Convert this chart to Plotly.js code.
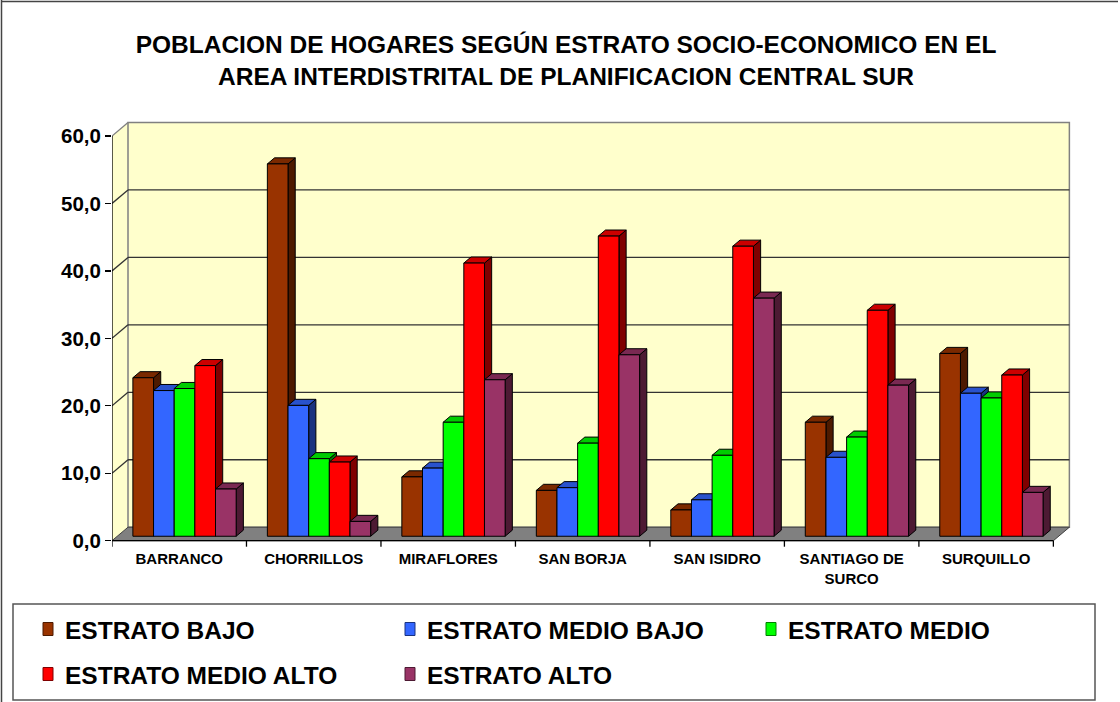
<!DOCTYPE html>
<html>
<head>
<meta charset="utf-8">
<script src="https://cdn.plot.ly/plotly-3.0.1.min.js"></script>
<style>html,body{margin:0;padding:0;background:#fff;}#chart{width:1120px;height:702px;}</style>
</head>
<body>
<div id="chart"></div>
<script>
// ---- data ----
const categories = ['BARRANCO', 'CHORRILLOS', 'MIRAFLORES', 'SAN BORJA', 'SAN ISIDRO', 'SANTIAGO DE SURCO', 'SURQUILLO'];
const tickLabels = ['BARRANCO', 'CHORRILLOS', 'MIRAFLORES', 'SAN BORJA', 'SAN ISIDRO', 'SANTIAGO DE<br>SURCO', 'SURQUILLO'];
const seriesNames = ['ESTRATO BAJO', 'ESTRATO MEDIO BAJO', 'ESTRATO MEDIO', 'ESTRATO MEDIO ALTO', 'ESTRATO ALTO'];
const estratoBajo = [23.5, 55.2, 8.8, 6.8, 3.9, 16.9, 27.1];
const estratoMedioBajo = [21.6, 19.4, 10.1, 7.2, 5.4, 11.7, 21.2];
const estratoMedio = [21.9, 11.5, 16.9, 13.8, 12.0, 14.7, 20.5];
const estratoMedioAlto = [25.3, 11.0, 40.5, 44.5, 43.0, 33.5, 23.9];
const estratoAlto = [7.0, 2.2, 23.2, 26.9, 35.3, 22.4, 6.5];
const yTickValues = [0, 10, 20, 30, 40, 50, 60];

// ---- styles ----
const seriesValues = [estratoBajo, estratoMedioBajo, estratoMedio, estratoMedioAlto, estratoAlto];
const frontColors = ['#993300', '#3366FF', '#00FF00', '#FF0000', '#993366'];
const topColors   = ['#7A2900', '#2952CC', '#00CC00', '#CC0000', '#7A2952'];
const sideColors  = ['#4D1A00', '#1A3380', '#008000', '#800000', '#4D1A33'];
const FONT = '"Liberation Sans", Arial, sans-serif';

// layout geometry (pixels)
const W_PX = 1120, H_PX = 702;
const M = {l: 112, r: 33, t: 110, b: 154};
const plotW = W_PX - M.l - M.r, plotH = H_PX - M.t - M.b;
const xRange = [-0.5, 6.75];
const pxPerVal = 6.745;
const yMin = -(H_PX - M.b - 540.7) / pxPerVal;
const yRange = [yMin, yMin + plotH / pxPerVal];
const pxPerCat = plotW / (xRange[1] - xRange[0]);
const DX = 16 / pxPerCat, DY = 13.5 / pxPerVal;   // depth of the 3D box
const A = 0.33, B = 0.45;                          // bar front position / bar depth (fractions)
const nS = seriesValues.length;
const BW = 0.768 / nS;                              // bar width in category units
const yMax = 60;

function px2paperX(p) { return (p - M.l) / plotW; }
function px2paperY(p) { return (H_PX - M.b - p) / plotH; }

// ---- bar faces ----
const traces = [];
seriesValues.forEach((vals, i) => {
  const fx = [], fy = [], sx = [], sy = [], tx = [], ty = [];
  vals.forEach((v, c) => {
    const xl = c - nS / 2 * BW + i * BW + A * DX;
    const xr = xl + BW;
    const y0 = A * DY, y1 = A * DY + v;
    const ddx = B * DX, ddy = B * DY;
    fx.push(xl, xr, xr, xl, xl, null); fy.push(y0, y0, y1, y1, y0, null);
    sx.push(xr, xr + ddx, xr + ddx, xr, xr, null); sy.push(y0, y0 + ddy, y1 + ddy, y1, y0, null);
    tx.push(xl, xr, xr + ddx, xl + ddx, xl, null); ty.push(y1, y1, y1 + ddy, y1 + ddy, y1, null);
  });
  const common = {type: 'scatter', mode: 'lines', fill: 'toself', showlegend: false, hoverinfo: 'skip',
                  line: {color: '#000000', width: 1}, connectgaps: false};
  traces.push(Object.assign({}, common, {x: sx, y: sy, fillcolor: sideColors[i], name: seriesNames[i] + ' lado'}));
  traces.push(Object.assign({}, common, {x: tx, y: ty, fillcolor: topColors[i], name: seriesNames[i] + ' tope'}));
  traces.push(Object.assign({}, common, {x: fx, y: fy, fillcolor: frontColors[i], name: seriesNames[i],
    text: vals.map(String), hoverinfo: 'name'}));
});

// ---- 3D box: walls, floor, gridlines ----
const xL = xRange[0], xR = categories.length - 0.5;
const shapes = [];
// left wall
shapes.push({type: 'path', xref: 'x', yref: 'y', layer: 'below',
  path: `M${xL},0 L${xL},${yMax} L${xL + DX},${yMax + DY} L${xL + DX},${DY} Z`,
  fillcolor: '#FFFFCC', line: {width: 0}});
// back wall
shapes.push({type: 'rect', xref: 'x', yref: 'y', layer: 'below',
  x0: xL + DX, x1: xR + DX, y0: DY, y1: yMax + DY, fillcolor: '#FFFFCC', line: {color: '#808080', width: 1.5}});
// floor
shapes.push({type: 'path', xref: 'x', yref: 'y', layer: 'below',
  path: `M${xL},0 L${xR},0 L${xR + DX},${DY} L${xL + DX},${DY} Z`,
  fillcolor: '#808080', line: {color: '#404040', width: 1}});
// gridlines
yTickValues.forEach(v => {
  if (v === 0) return;
  const col = v === yMax ? '#808080' : '#333333';
  if (v !== yMax) shapes.push({type: 'line', xref: 'x', yref: 'y', layer: 'below',
    x0: xL + DX, x1: xR + DX, y0: v + DY, y1: v + DY, line: {color: col, width: 1.3}});
  shapes.push({type: 'line', xref: 'x', yref: 'y', layer: 'below',
    x0: xL, x1: xL + DX, y0: v, y1: v + DY, line: {color: col, width: 1.3}});
});
// front axes
shapes.push({type: 'line', xref: 'x', yref: 'y', x0: xL, x1: xL, y0: 0, y1: yMax, line: {color: '#000', width: 1.3}});
shapes.push({type: 'line', xref: 'x', yref: 'y', x0: xL, x1: xR, y0: 0, y1: 0, line: {color: '#000', width: 1.3}});
for (let k = 0; k <= categories.length; k++) {
  shapes.push({type: 'line', xref: 'x', yref: 'y', x0: k - 0.5, x1: k - 0.5, y0: 0, y1: -6 / pxPerVal,
    line: {color: '#000', width: 1.3}});
}
// outer border
shapes.push({type: 'line', xref: 'paper', yref: 'paper', x0: px2paperX(1.5), x1: px2paperX(1.5), y0: px2paperY(0), y1: px2paperY(702), line: {color: '#444', width: 1.5}});
shapes.push({type: 'line', xref: 'paper', yref: 'paper', x0: px2paperX(1.5), x1: px2paperX(1118), y0: px2paperY(1.5), y1: px2paperY(1.5), line: {color: '#444', width: 1.5}});
// legend box
shapes.push({type: 'rect', xref: 'paper', yref: 'paper', x0: px2paperX(13), x1: px2paperX(1095), y0: px2paperY(604), y1: px2paperY(700),
  line: {color: '#555', width: 1.5}, fillcolor: 'rgba(0,0,0,0)'});

// ---- manual legend ----
const legCols = [43, 405, 766];
const legRows = [629, 674];
const annotations = [];
seriesNames.forEach((name, i) => {
  const cx = legCols[i % 3], cy = legRows[Math.floor(i / 3)];
  shapes.push({type: 'rect', xref: 'paper', yref: 'paper', x0: px2paperX(cx), x1: px2paperX(cx + 10),
    y0: px2paperY(cy - 6.5), y1: px2paperY(cy + 6.5), fillcolor: frontColors[i], line: {color: sideColors[i], width: 1}});
  annotations.push({xref: 'paper', yref: 'paper', x: px2paperX(cx + 20), y: px2paperY(cy + 1), xanchor: 'left', yanchor: 'middle',
    showarrow: false, text: name, font: {family: FONT, size: 24.5, color: '#000', weight: 'bold'}});
});

const layout = {
  width: W_PX, height: H_PX,
  margin: M,
  paper_bgcolor: '#ffffff', plot_bgcolor: 'rgba(0,0,0,0)',
  separators: ',.',
  showlegend: false,
  title: {
    text: 'POBLACION DE HOGARES SEGÚN ESTRATO SOCIO-ECONOMICO EN EL<br>AREA INTERDISTRITAL DE PLANIFICACION CENTRAL SUR',
    font: {family: FONT, size: 24.5, color: '#000', weight: 'bold'},
    x: 566 / W_PX, xanchor: 'center', xref: 'container',
    y: 1 - 53 / H_PX, yanchor: 'middle', yref: 'container'
  },
  xaxis: {
    range: xRange, tickmode: 'array', tickvals: categories.map((c, i) => i), ticktext: tickLabels,
    showgrid: false, zeroline: false, showline: false, ticks: '',
    tickfont: {family: FONT, size: 15, color: '#000', weight: 'bold'}, fixedrange: true
  },
  yaxis: {
    range: yRange, tickmode: 'array', tickvals: yTickValues, tickformat: '.1f',
    showgrid: false, zeroline: false, showline: false, ticks: 'outside', ticklen: 6, tickwidth: 1.3, tickcolor: '#000',
    tickfont: {family: FONT, size: 20.5, color: '#000', weight: 'bold'}, fixedrange: true
  },
  shapes: shapes,
  annotations: annotations
};

Plotly.newPlot('chart', traces, layout, {displayModeBar: false, staticPlot: true});
</script>
</body>
</html>
